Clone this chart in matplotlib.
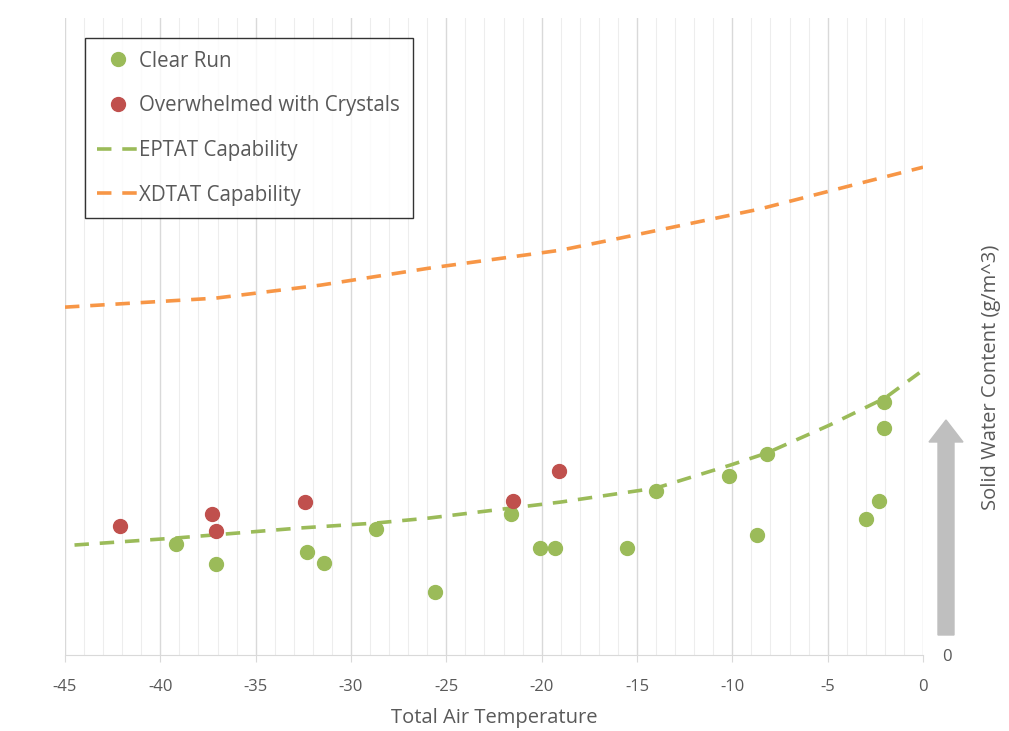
import numpy as np
import matplotlib
matplotlib.use("Agg")
import matplotlib.pyplot as plt
from matplotlib.patches import FancyArrow
from matplotlib.ticker import MultipleLocator

plt.rcParams['font.family'] = ['Open Sans', 'DejaVu Sans']
plt.rcParams['axes.unicode_minus'] = False

# Clear runs (temperature, solid water content)
clear_x = [-39.2, -37.1, -32.3, -31.4, -28.7, -25.6, -21.6, -20.1, -19.3, -15.5,
           -14.0, -10.2, -8.7, -8.2, -3.0, -2.3, -2.05, -2.05]
clear_y = [0.555, 0.455, 0.515, 0.46, 0.63, 0.315, 0.705, 0.535, 0.535, 0.535,
           0.82, 0.895, 0.60, 1.005, 0.68, 0.77, 1.265, 1.135]

# Runs overwhelmed with crystals
over_x = [-42.1, -37.3, -37.1, -32.4, -21.5, -19.1]
over_y = [0.645, 0.705, 0.62, 0.765, 0.77, 0.92]

# capability curves
eptat_x = [-44.5, -39.2, -32.7, -28.7, -25.9, -21.6, -19.0, -14.0, -10.1, -8.2, -4.9, -2.0, 0.0]
eptat_y = [0.55, 0.585, 0.635, 0.66, 0.685, 0.735, 0.765, 0.835, 0.95, 1.01, 1.15, 1.285, 1.425]
xdtat_x = [-45.0, -37.1, -31.6, -25.9, -19.0, -15.9, -8.6, -3.3, 0.0]
xdtat_y = [1.74, 1.785, 1.85, 1.935, 2.025, 2.085, 2.23, 2.36, 2.44]

green = '#9BBB59'
red = '#C0504D'
orange = '#F79646'
txt = '#595959'

fig = plt.figure(figsize=(10.09, 7.31), dpi=100)
ax = fig.add_axes([0.0644, 0.104, 0.8504, 0.871])

ax.plot(clear_x, clear_y, 'o', color=green, markersize=10, label='Clear Run', zorder=3)
ax.plot(over_x, over_y, 'o', color=red, markersize=10, label='Overwhelmed with Crystals', zorder=3)
ax.plot(eptat_x, eptat_y, color=green, lw=2.6, dashes=(4, 3), label='EPTAT Capability', zorder=2)
ax.plot(xdtat_x, xdtat_y, color=orange, lw=2.6, dashes=(4, 3), label='XDTAT Capability', zorder=2)

ax.set_xlim(-45, 0)
ax.set_ylim(0, 3.185)
ax.xaxis.set_major_locator(MultipleLocator(5))
ax.xaxis.set_minor_locator(MultipleLocator(1))
ax.grid(which='major', axis='x', color='#D9D9D9', lw=1)
ax.grid(which='minor', axis='x', color='#EDEDED', lw=0.8)
ax.set_axisbelow(True)

for s in ['top', 'left', 'right']:
    ax.spines[s].set_visible(False)
ax.spines['bottom'].set_color('#D9D9D9')
ax.tick_params(axis='x', which='major', colors='#D9D9D9', labelcolor=txt,
               labelsize=12, length=5, pad=12)
ax.tick_params(axis='x', which='minor', length=0)

ax.yaxis.tick_right()
ax.set_yticks([0])
ax.tick_params(axis='y', length=0, labelcolor=txt, labelsize=12, pad=14)
ax.yaxis.set_label_position('right')
ax.set_ylabel('Solid Water Content (g/m^3)', color=txt, fontsize=14.5)
ax.yaxis.set_label_coords(1.068, 0.436)
ax.set_xlabel('Total Air Temperature', color=txt, fontsize=14.5, labelpad=10)

leg = ax.legend(loc='upper left', bbox_to_anchor=(0.0233, 0.9686), borderaxespad=0,
                fontsize=14.8, frameon=True, fancybox=False, edgecolor='black',
                labelspacing=1.15, handlelength=2.0, handletextpad=0.05, borderpad=0.6)
leg.get_frame().set_linewidth(1.0)
for t in leg.get_texts():
    t.set_color(txt)

# arrow indicating increasing water content
arrow = FancyArrow(946 / 1009, (731 - 635) / 731, 0, (635 - 420) / 731, width=16 / 1009,
                   head_width=34 / 1009, head_length=22 / 731, length_includes_head=True,
                   color='#BFBFBF', transform=fig.transFigure)
fig.patches.append(arrow)

fig.savefig('out.png', dpi=100)
